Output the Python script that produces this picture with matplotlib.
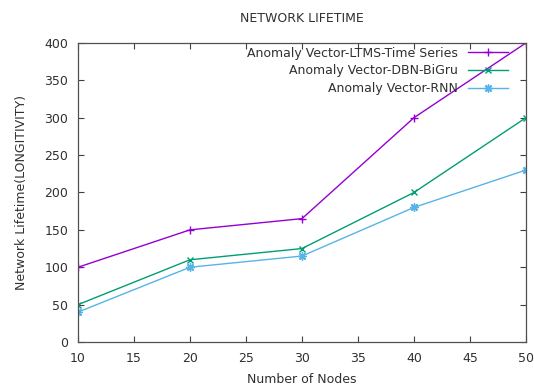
import matplotlib
matplotlib.use("Agg")
import matplotlib.pyplot as plt

nodes = [10, 20, 30, 40, 50]
ltms = [100, 150, 165, 300, 400]
dbn = [50, 110, 125, 200, 300]
rnn = [40, 100, 115, 180, 230]
labels = ["Anomaly Vector-LTMS-Time Series", "Anomaly Vector-DBN-BiGru", "Anomaly Vector-RNN"]
xticks = [10, 15, 20, 25, 30, 35, 40, 45, 50]
yticks = [0, 50, 100, 150, 200, 250, 300, 350, 400]

plt.rcParams['font.family'] = ['DejaVu Sans']
fig = plt.figure(figsize=(5.34, 3.9), dpi=100)
ax = fig.add_axes([0.146, 0.123, 0.839, 0.767])

ax.plot(nodes, ltms, color='#9400d3', lw=1, marker='+', ms=6, mew=1, label=labels[0])
ax.plot(nodes, dbn, color='#009e73', lw=1, marker='x', ms=5, mew=1, label=labels[1])
ax.plot(nodes, rnn, color='#56b4e9', lw=1, marker=(8, 2, 0), ms=6, mew=1, label=labels[2])

ax.set_xlim(10, 50)
ax.set_ylim(0, 400)
ax.set_xticks(xticks)
ax.set_yticks(yticks)
ax.tick_params(direction='in', top=True, right=True, length=4, width=0.8,
               colors='#404040', labelcolor='#303030', labelsize=9, pad=7)
for s in ax.spines.values():
    s.set_color('#505050')
    s.set_linewidth(0.9)

ax.set_xlabel("Number of Nodes", fontsize=9, color='#303030', labelpad=6)
ax.set_ylabel("Network Lifetime(LONGITIVITY)", fontsize=9, color='#303030', labelpad=12)
fig.text(0.5 * (0.146 + 0.985), 0.953, "NETWORK LIFETIME", ha='center', va='center', fontsize=9, color='#303030')

leg = ax.legend(loc='upper right', bbox_to_anchor=(0.971, 1.004), frameon=False,
                markerfirst=False, fontsize=9, handlelength=3.2, handletextpad=0.8,
                labelspacing=0.38, borderaxespad=0.0, numpoints=1)
for t in leg.get_texts():
    t.set_color('#303030')

fig.savefig("out.png", dpi=100)
